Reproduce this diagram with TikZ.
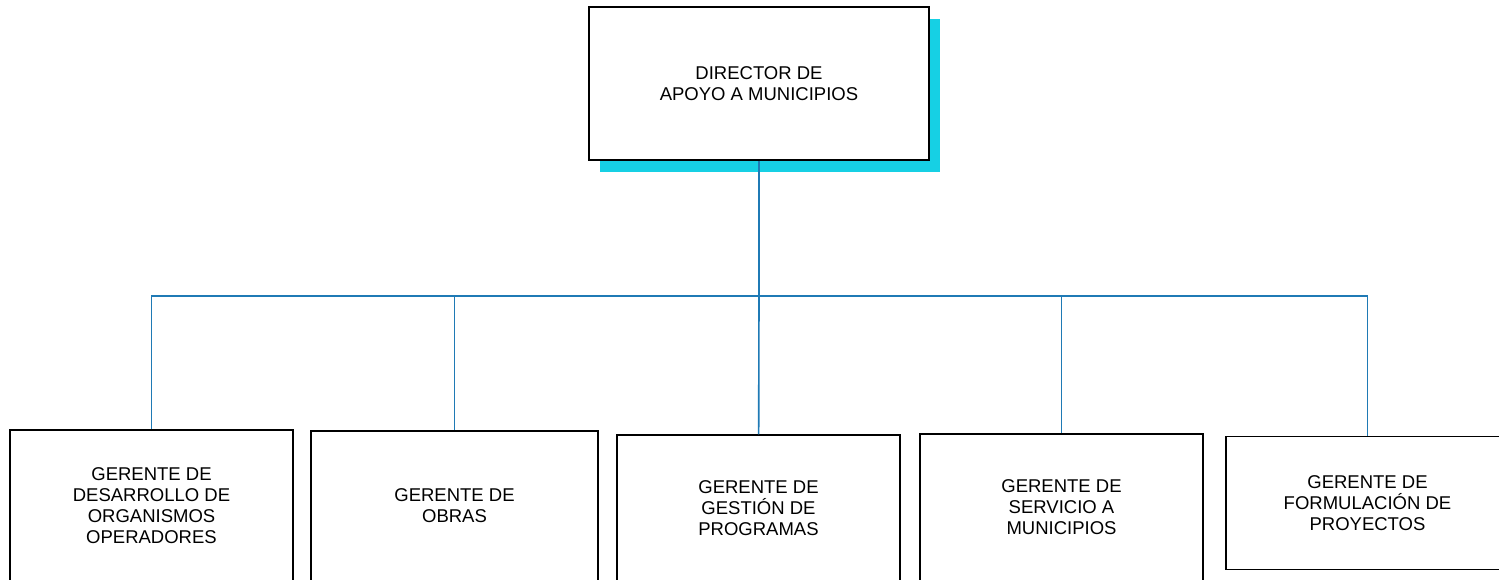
\documentclass[tikz,border=0pt]{standalone}
\usepackage{fontspec}
\setmainfont{Liberation Sans}
\usepackage{tikz}
\usetikzlibrary{shadows}

\definecolor{shadowcyan}{RGB}{22,208,228}
\definecolor{linkblue}{RGB}{31,122,181}

\begin{document}
\begin{tikzpicture}[x=1pt,y=-1pt,
  main_box/.style={rectangle,draw,line width=1.4pt,fill=white,align=center,inner sep=0pt,
    font=\fontsize{18.5}{21}\selectfont},
  low_box/.style={main_box,minimum width=283pt,minimum height=151pt},
  link/.style={draw=linkblue,line width=1.6pt}]

    \useasboundingbox (0,0) rectangle (1499,579);

    \node[main_box, minimum width=340pt, minimum height=153pt,
      drop shadow={shadow xshift=11pt,shadow yshift=-12pt,fill=shadowcyan,opacity=1}]
      (1) at (759,83.5) {DIRECTOR DE\\APOYO A MUNICIPIOS};

    \node[low_box] (2) at (151.5,505.5) {GERENTE DE\\DESARROLLO DE\\ORGANISMOS\\OPERADORES};
    \node[low_box, minimum width=287pt, minimum height=150pt] (3) at (454.5,506) {GERENTE DE\\OBRAS};
    \node[low_box, minimum height=146pt] (4) at (758.5,508) {GERENTE DE\\GESTIÓN DE\\PROGRAMAS};
    \node[low_box, minimum height=147pt] (5) at (1061.5,507.5) {GERENTE DE\\SERVICIO A\\MUNICIPIOS};
    \node[low_box, minimum width=283pt, minimum height=133pt] (6) at (1367.5,503) {GERENTE DE\\FORMULACIÓN DE\\PROYECTOS};

    \coordinate (7) at (759,296);

    \draw[link] (1) -- (7);
    \draw[link] (7) -| (2);
    \draw[link] (7) -| (3);
    \draw[link] (7) -- (4);
    \draw[link] (7) -| (5);
    \draw[link] (7) -| (6);

\end{tikzpicture}
\end{document}
